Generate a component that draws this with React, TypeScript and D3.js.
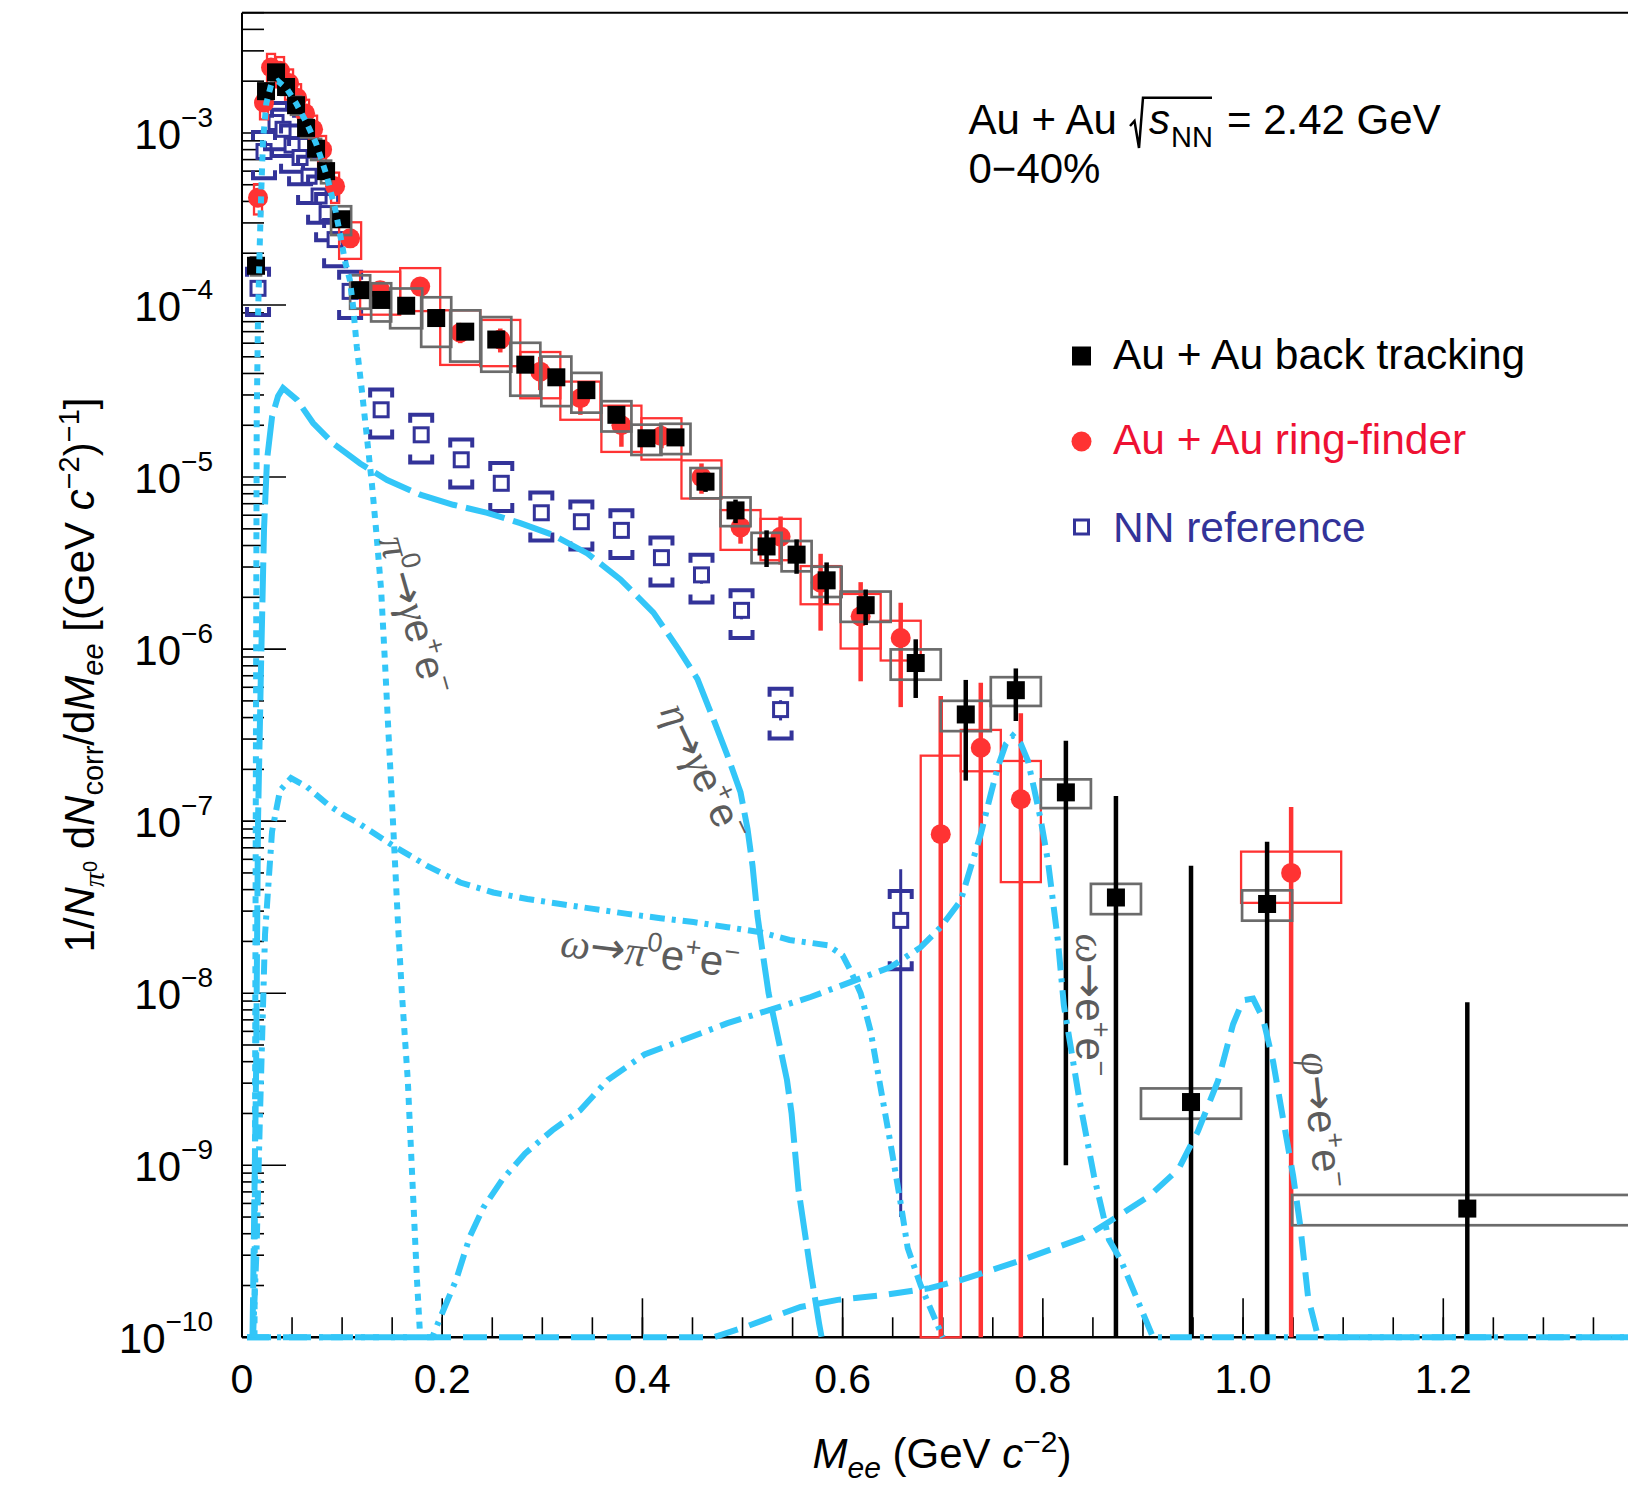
import React from 'react';
import * as d3 from 'd3';

// ---------------- values ----------------
// Au + Au back tracking (black squares)
const btMass = [0.014, 0.024, 0.034, 0.044, 0.054, 0.064, 0.074, 0.084, 0.099, 0.118, 0.139, 0.164, 0.194, 0.223, 0.254, 0.283, 0.314, 0.344, 0.374, 0.404, 0.433, 0.463, 0.493, 0.524, 0.554, 0.584, 0.623, 0.673, 0.723, 0.773, 0.823, 0.873, 0.948, 1.024, 1.224];
const btYield = [1.69e-4, 1.75e-3, 2.25e-3, 1.85e-3, 1.45e-3, 1.07e-3, 8.1e-4, 6.0e-4, 3.15e-4, 1.22e-4, 1.07e-4, 9.9e-5, 8.4e-5, 7.0e-5, 6.3e-5, 4.5e-5, 3.8e-5, 3.2e-5, 2.3e-5, 1.68e-5, 1.7e-5, 9.4e-6, 6.4e-6, 3.95e-6, 3.54e-6, 2.51e-6, 1.8e-6, 8.3e-7, 4.17e-7, 5.77e-7, 1.47e-7, 3.6e-8, 2.33e-9, 3.3e-8, 5.6e-10];
const btStat = [1.0e-5, 5e-5, 6e-5, 5e-5, 4e-5, 3e-5, 2.5e-5, 2e-5, 1.2e-5, 6e-6, 6e-6, 6e-6, 5e-6, 4.5e-6, 4e-6, 3e-6, 2.6e-6, 2.4e-6, 1.8e-6, 1.5e-6, 1.5e-6, 1.2e-6, 1.0e-6, 0.95e-6, 0.8e-6, 0.68e-6, 0.42e-6, 3.1e-7, 2.45e-7, 1.95e-7, 1.46e-7, 1.04e-7, 5.27e-8, 4.3e-8, 8.3e-9];
const btSys = [0.12, 0.1, 0.1, 0.1, 0.12, 0.12, 0.14, 0.15, 0.19, 0.22, 0.25, 0.26, 0.32, 0.33, 0.35, 0.34, 0.32, 0.26, 0.2, 0.2, 0.2, 0.2, 0.19, 0.2, 0.2, 0.2, 0.2, 0.2, 0.2, 0.19, 0.19, 0.2, 0.2, 0.2, 0.2];
const btHalfBin = [0.005, 0.005, 0.005, 0.005, 0.005, 0.005, 0.005, 0.005, 0.01, 0.01, 0.01, 0.016, 0.015, 0.015, 0.015, 0.015, 0.015, 0.015, 0.015, 0.015, 0.015, 0.015, 0.015, 0.015, 0.015, 0.015, 0.025, 0.025, 0.025, 0.025, 0.025, 0.025, 0.05, 0.025, 0.175];

// Au + Au ring-finder (red circles)
const rfMass = [0.016, 0.022, 0.029, 0.038, 0.047, 0.055, 0.063, 0.071, 0.08, 0.093, 0.108, 0.138, 0.178, 0.218, 0.258, 0.298, 0.338, 0.379, 0.419, 0.459, 0.498, 0.538, 0.578, 0.618, 0.658, 0.698, 0.738, 0.778, 1.048];
const rfYield = [4.2e-4, 1.5e-3, 2.4e-3, 2.3e-3, 1.95e-3, 1.6e-3, 1.3e-3, 1.05e-3, 8.0e-4, 4.9e-4, 2.44e-4, 1.22e-4, 1.28e-4, 6.9e-5, 6.3e-5, 4.1e-5, 2.87e-5, 2.0e-5, 1.73e-5, 1.0e-5, 5.1e-6, 4.5e-6, 2.43e-6, 1.55e-6, 1.16e-6, 8.4e-8, 2.67e-7, 1.34e-7, 5.0e-8];
const rfStat = [2.5e-5, 6e-5, 8e-5, 7e-5, 6e-5, 5e-5, 4e-5, 3.5e-5, 3e-5, 2e-5, 1.2e-5, 8e-6, 8e-6, 9e-6, 1e-5, 9e-6, 5.7e-6, 5e-6, 2.6e-6, 2e-6, 1.0e-6, 1.4e-6, 1.15e-6, 0.9e-6, 0.7e-6, 4.5e-7, 3.7e-7, 2.9e-7, 7.1e-8];
const rfSys = [0.2, 0.2, 0.2, 0.2, 0.2, 0.2, 0.2, 0.2, 0.2, 0.2, 0.24, 0.28, 0.28, 0.35, 0.3, 0.3, 0.25, 0.3, 0.27, 0.25, 0.26, 0.27, 0.25, 0.35, 0.26, 1.86, 0.27, 0.67, 0.33];
const rfHalfBin = [0.004, 0.004, 0.004, 0.004, 0.004, 0.004, 0.004, 0.004, 0.004, 0.004, 0.011, 0.02, 0.02, 0.02, 0.02, 0.02, 0.02, 0.02, 0.02, 0.02, 0.02, 0.02, 0.02, 0.02, 0.02, 0.02, 0.02, 0.02, 0.05];

// NN reference (open blue squares)
const nnMass = [0.016, 0.022, 0.034, 0.041, 0.05, 0.058, 0.067, 0.077, 0.085, 0.093, 0.108, 0.139, 0.179, 0.219, 0.259, 0.299, 0.339, 0.379, 0.419, 0.459, 0.499, 0.538, 0.658];
const nnYield = [1.25e-4, 7.8e-4, 1.15e-3, 1.05e-3, 8.5e-4, 7.2e-4, 5.6e-4, 4.3e-4, 3.4e-4, 2.4e-4, 1.2e-4, 2.46e-5, 1.76e-5, 1.26e-5, 9.2e-6, 6.2e-6, 5.5e-6, 4.9e-6, 3.4e-6, 2.7e-6, 1.68e-6, 4.45e-7, 2.65e-8];
const nnStat = [6e-6, 3e-5, 4e-5, 4e-5, 3e-5, 3e-5, 2.5e-5, 2e-5, 1.5e-5, 1.2e-5, 6e-6, 1.8e-6, 1.4e-6, 1.1e-6, 8e-7, 6e-7, 5.5e-7, 5e-7, 3.6e-7, 3e-7, 1.9e-7, 6e-8, 2.6e-8];
const nnSys = [0.3, 0.3, 0.3, 0.3, 0.3, 0.3, 0.3, 0.3, 0.3, 0.3, 0.3, 0.31, 0.31, 0.31, 0.31, 0.31, 0.31, 0.31, 0.31, 0.31, 0.31, 0.32, 0.48];

// cocktail curves [mass, yield]; 0 = below the axis
const pi0Dalitz: [number, number][] = [[0.0125, 0], [0.0147, 2.2e-5], [0.016, 8.5e-5], [0.0177, 2.2e-4], [0.0193, 4.7e-4], [0.021, 9.1e-4], [0.0243, 1.49e-3], [0.029, 1.9e-3], [0.036, 2.0e-3], [0.045, 1.8e-3], [0.054, 1.49e-3], [0.064, 1.16e-3], [0.074, 8.7e-4], [0.084, 5.8e-4], [0.0927, 3.7e-4], [0.099, 2.4e-4], [0.1027, 1.82e-4], [0.1077, 1.4e-4], [0.111, 9.8e-5], [0.1147, 5.7e-5], [0.1197, 3.2e-5], [0.1247, 1.72e-5], [0.1297, 9.2e-6], [0.134, 4.9e-6], [0.139, 2.2e-6], [0.143, 8.0e-7], [0.1463, 3.27e-7], [0.1497, 1.34e-7], [0.153, 5.5e-8], [0.1563, 2.25e-8], [0.1597, 1.0e-8], [0.1656, 3.13e-9], [0.1702, 8.2e-10], [0.1748, 2.15e-10], [0.178, 0]];
const etaDalitz: [number, number][] = [[0.0105, 0], [0.014, 3.2e-9], [0.016, 1.0e-7], [0.019, 7.9e-7], [0.022, 5.0e-6], [0.025, 1.26e-5], [0.03, 2.24e-5], [0.036, 2.95e-5], [0.041, 3.29e-5], [0.055, 2.81e-5], [0.071, 2.06e-5], [0.091, 1.57e-5], [0.118, 1.2e-5], [0.145, 9.6e-6], [0.178, 7.9e-6], [0.211, 6.9e-6], [0.245, 6.2e-6], [0.278, 5.4e-6], [0.311, 4.6e-6], [0.345, 3.6e-6], [0.378, 2.54e-6], [0.411, 1.63e-6], [0.436, 1.0e-6], [0.455, 6.7e-7], [0.471, 3.9e-7], [0.485, 2.4e-7], [0.498, 1.47e-7], [0.505, 9.0e-8], [0.51, 5.5e-8], [0.515, 2.8e-8], [0.521, 1.58e-8], [0.526, 1.0e-8], [0.5444, 3.13e-9], [0.549, 2.0e-9], [0.5559, 7.2e-10], [0.5673, 2.57e-10], [0.5765, 1.2e-10], [0.579, 0]];
const omegaDalitz: [number, number][] = [[0.011, 0], [0.0145, 3.2e-10], [0.018, 2.0e-9], [0.023, 2.2e-8], [0.03, 8.7e-8], [0.038, 1.51e-7], [0.049, 1.78e-7], [0.065, 1.58e-7], [0.085, 1.26e-7], [0.1, 1.1e-7], [0.118, 9.6e-8], [0.151, 7.2e-8], [0.185, 5.5e-8], [0.218, 4.4e-8], [0.251, 3.85e-8], [0.285, 3.53e-8], [0.318, 3.3e-8], [0.351, 3.09e-8], [0.385, 2.89e-8], [0.418, 2.73e-8], [0.451, 2.59e-8], [0.485, 2.42e-8], [0.518, 2.26e-8], [0.547, 2.04e-8], [0.585, 1.9e-8], [0.6, 1.66e-8], [0.608, 1.35e-8], [0.618, 1.0e-8], [0.628, 6.0e-9], [0.638, 2.8e-9], [0.648, 1.32e-9], [0.658, 6.0e-10], [0.665, 3.3e-10], [0.678, 2.0e-10], [0.7, 0]];
const omegaDirect: [number, number][] = [[0.005, 0], [0.19, 0], [0.1999, 1.38e-10], [0.2138, 2.15e-10], [0.2276, 3.85e-10], [0.2413, 5.7e-10], [0.2597, 8.2e-10], [0.2827, 1.17e-9], [0.3102, 1.6e-9], [0.3378, 2.09e-9], [0.3653, 3.13e-9], [0.402, 4.4e-9], [0.485, 6.7e-9], [0.568, 9.5e-9], [0.648, 1.42e-8], [0.678, 1.85e-8], [0.698, 2.42e-8], [0.718, 3.46e-8], [0.728, 5.4e-8], [0.738, 8.4e-8], [0.748, 1.44e-7], [0.755, 2.06e-7], [0.763, 2.81e-7], [0.77, 3.14e-7], [0.778, 2.81e-7], [0.785, 2.25e-7], [0.791, 1.57e-7], [0.798, 1.01e-7], [0.805, 5.9e-8], [0.81, 3.46e-8], [0.815, 2.03e-8], [0.821, 8.5e-9], [0.8364, 2.42e-9], [0.851, 8.7e-10], [0.866, 3.7e-10], [0.878, 2.8e-10], [0.91, 0], [1.4, 0]];
const phiDirect: [number, number][] = [[0.005, 0], [0.471, 0], [0.503, 1.15e-10], [0.526, 1.29e-10], [0.558, 1.5e-10], [0.595, 1.65e-10], [0.641, 1.76e-10], [0.687, 1.93e-10], [0.718, 2.15e-10], [0.778, 2.8e-10], [0.841, 3.8e-10], [0.876, 5.1e-10], [0.906, 6.6e-10], [0.9355, 9.5e-10], [0.955, 1.58e-9], [0.975, 3.1e-9], [0.99, 6.6e-9], [1.0, 9.1e-9], [1.01, 9.3e-9], [1.02, 7.1e-9], [1.03, 4.0e-9], [1.04, 1.86e-9], [1.05, 8.7e-10], [1.057, 4.5e-10], [1.065, 1.7e-10], [1.075, 0], [1.4, 0]];

// axis ticks
const xTickValues = [0, 0.2, 0.4, 0.6, 0.8, 1.0, 1.2, 1.4];
const xTickLabels = ['0', '0.2', '0.4', '0.6', '0.8', '1.0', '1.2', ''];
const yDecades = [-10, -9, -8, -7, -6, -5, -4, -3];

// legend
const legendLabels = ['Au + Au back tracking', 'Au + Au ring-finder', 'NN reference'];

// ---------------- drawing ----------------
const FONT = "'Liberation Sans', Arial, Helvetica, sans-serif";
const SERIF = "'Liberation Serif', 'Times New Roman', serif";
const ARROW = "'DejaVu Sans', sans-serif";
const RED = '#ff3333';
const BLUE = '#333399';
const GRAY = '#6b6b6b';
const CYAN = '#33c6f8';
const LABEL = '#5c5c5c';

type Seg = { t: string; size?: number; shift?: number; it?: boolean; serif?: boolean; family?: string };

function Rich({ segs, base, ...rest }: { segs: Seg[]; base: number } & React.SVGProps<SVGTextElement>) {
  let prev = 0;
  return (
    <text fontFamily={FONT} fontSize={base} style={{ whiteSpace: 'pre' }} {...rest}>
      {segs.map((s, i) => {
        const sh = s.shift ?? 0;
        const dy = prev - sh;
        prev = sh;
        return (
          <tspan key={i} dy={dy !== 0 ? dy : undefined} fontSize={s.size ?? base}
            fontStyle={s.it ? 'italic' : undefined} fontFamily={s.family ?? (s.serif ? SERIF : undefined)}>
            {s.t}
          </tspan>
        );
      })}
    </text>
  );
}

export default function App() {
  const W = 1628, H = 1487;
  const left = 242, right = 1643.5, top = 12.7, bottom = 1337.3;

  const x = d3.scaleLinear().domain([0, 1.4]).range([left, right]);
  const y = d3.scaleLog().domain([1e-10, 5e-3]).range([bottom, top]).clamp(true);
  const Y = (v: number) => y(v > 0 ? v : 1e-12);

  const line = d3.line<[number, number]>().x(d => x(d[0])).y(d => Y(d[1]));

  const xMinor = d3.range(0, 1.4001, 0.05);
  const yMinor = y.ticks().filter(t => Math.abs(Math.log10(t) - Math.round(Math.log10(t))) > 1e-6);

  const curves: { data: [number, number][]; dash: string }[] = [
    { data: phiDirect, dash: '24 12' },
    { data: omegaDirect, dash: '22 8 4 8' },
    { data: omegaDalitz, dash: '15 7 4 7' },
    { data: etaDalitz, dash: '40 9' },
    { data: pi0Dalitz, dash: '7 7' },
  ];

  const sup = (t: string): Seg => ({ t, size: 27, shift: 16 });
  const arrow: Seg = { t: '\u2192', family: ARROW };

  return (
    <svg width={W} height={H} style={{ position: 'absolute', left: 0, top: 0, background: '#fff' }}>
      <defs>
        <clipPath id="dataClip"><rect x={left} y={top} width={right - left} height={bottom - top + 3} /></clipPath>
        <clipPath id="curveClip"><rect x={left} y={top} width={right - left} height={bottom - top + 5} /></clipPath>
      </defs>

      {/* frame and axes */}
      <line x1={left} x2={W} y1={top} y2={top} stroke="#000" strokeWidth={2} />
      <line x1={left} x2={left} y1={top} y2={bottom} stroke="#000" strokeWidth={2} />
      <line x1={left} x2={W} y1={bottom} y2={bottom} stroke="#000" strokeWidth={2.5} />
      {xMinor.map((t, i) => (
        <line key={'xm' + i} x1={x(t)} x2={x(t)} y1={bottom} y2={bottom - 20} stroke="#000" strokeWidth={1.6} />
      ))}
      {xTickValues.map((t, i) => (
        <g key={'xt' + i}>
          <line x1={x(t)} x2={x(t)} y1={bottom} y2={bottom - 39} stroke="#000" strokeWidth={1.6} />
          <text x={x(t)} y={1393} textAnchor="middle" fontFamily={FONT} fontSize={41}>{xTickLabels[i]}</text>
        </g>
      ))}
      {yMinor.map((t, i) => (
        <line key={'ym' + i} x1={left} x2={left + 22} y1={y(t)} y2={y(t)} stroke="#000" strokeWidth={1.6} />
      ))}
      {yDecades.map(d => {
        const yy = y(Math.pow(10, d));
        return (
          <g key={'yt' + d}>
            <line x1={left} x2={left + 44} y1={yy} y2={yy} stroke="#000" strokeWidth={1.6} />
            <Rich base={42} x={213} y={yy + 16} textAnchor="end"
              segs={[{ t: '10' }, { t: '\u2212' + Math.abs(d), size: 28, shift: 22 }]} />
          </g>
        );
      })}

      {/* NN reference */}
      <g clipPath="url(#dataClip)">
        {nnMass.map((m, i) => {
          const v = nnYield[i], cx = x(m);
          const yt = Y(v * (1 + nnSys[i])), yb = Y(v * (1 - nnSys[i]));
          return (
            <g key={'nn' + i}>
              <line x1={cx} x2={cx} y1={Y(v + nnStat[i])} y2={Y(v - nnStat[i])} stroke={BLUE} strokeWidth={3} />
              <path d={`M${cx - 11},${yt + 8}V${yt}H${cx + 11}V${yt + 8}`} fill="none" stroke={BLUE} strokeWidth={4} />
              <path d={`M${cx - 11},${yb - 8}V${yb}H${cx + 11}V${yb - 8}`} fill="none" stroke={BLUE} strokeWidth={4} />
              <rect x={cx - 7} y={Y(v) - 7} width={14} height={14} fill="#fff" stroke={BLUE} strokeWidth={3} />
            </g>
          );
        })}
      </g>

      {/* ring-finder */}
      <g clipPath="url(#dataClip)">
        {rfMass.map((m, i) => {
          const v = rfYield[i];
          return (
            <rect key={'rfs' + i} x={x(m - rfHalfBin[i])} width={x(m + rfHalfBin[i]) - x(m - rfHalfBin[i])}
              y={Y(v * (1 + rfSys[i]))} height={Y(v * (1 - rfSys[i])) - Y(v * (1 + rfSys[i]))}
              fill="none" stroke={RED} strokeWidth={2.3} />
          );
        })}
        {rfMass.map((m, i) => {
          const v = rfYield[i], cx = x(m);
          return (
            <g key={'rf' + i}>
              <line x1={cx} x2={cx} y1={Y(v + rfStat[i])} y2={Y(v - rfStat[i])} stroke={RED} strokeWidth={4.5} />
              <circle cx={cx} cy={Y(v)} r={10} fill={RED} />
            </g>
          );
        })}
      </g>

      {/* back tracking */}
      <g clipPath="url(#dataClip)">
        {btMass.map((m, i) => {
          const v = btYield[i];
          return (
            <rect key={'bts' + i} x={x(m - btHalfBin[i])} width={x(m + btHalfBin[i]) - x(m - btHalfBin[i])}
              y={Y(v * (1 + btSys[i]))} height={Y(v * (1 - btSys[i])) - Y(v * (1 + btSys[i]))}
              fill="none" stroke={GRAY} strokeWidth={2.7} />
          );
        })}
        {btMass.map((m, i) => {
          const v = btYield[i], cx = x(m);
          return (
            <g key={'bt' + i}>
              <line x1={cx} x2={cx} y1={Y(v + btStat[i])} y2={Y(v - btStat[i])} stroke="#000" strokeWidth={4.5} />
              <rect x={cx - 9} y={Y(v) - 9} width={18} height={18} fill="#000" />
            </g>
          );
        })}
      </g>

      {/* cocktail */}
      <g clipPath="url(#curveClip)" fill="none" stroke={CYAN} strokeWidth={6}>
        {curves.map((c, i) => (
          <path key={'c' + i} d={line(c.data) ?? ''} strokeDasharray={c.dash} />
        ))}
      </g>

      {/* curve labels */}
      <g fill={LABEL}>
        <Rich base={41} textAnchor="middle" transform="translate(415,615) rotate(74)" dy={14}
          segs={[{ t: 'π', serif: true, it: true }, { t: '0', size: 27, shift: 16 }, arrow, { t: 'γ', serif: true, it: true }, { t: 'e' }, sup('+'), { t: 'e' }, sup('−')]} />
        <Rich base={41} textAnchor="middle" transform="translate(704,772) rotate(64.5)" dy={14}
          segs={[{ t: 'η', serif: true, it: true }, arrow, { t: 'γ', serif: true, it: true }, { t: 'e' }, sup('+'), { t: 'e' }, sup('−')]} />
        <Rich base={42} textAnchor="middle" transform="translate(650,953) rotate(7)" dy={14}
          segs={[{ t: 'ω', serif: true, it: true }, arrow, { t: 'π', serif: true, it: true }, { t: '0', size: 27, shift: 16 }, { t: 'e' }, sup('+'), { t: 'e' }, sup('−')]} />
        <Rich base={42} textAnchor="middle" transform="translate(1090,1005) rotate(90)" dy={14}
          segs={[{ t: 'ω', serif: true, it: true }, arrow, { t: 'e' }, sup('+'), { t: 'e' }, sup('−')]} />
        <Rich base={42} textAnchor="middle" transform="translate(1322,1120) rotate(84)" dy={14}
          segs={[{ t: 'φ', serif: true, it: true }, arrow, { t: 'e' }, sup('+'), { t: 'e' }, sup('−')]} />
      </g>

      {/* system label */}
      <text x={968.5} y={134} fontFamily={FONT} fontSize={42}>Au + Au</text>
      <path d="M1130,126 L1134.5,121 L1139,148 L1143,97.7 L1212,97.7" fill="none" stroke="#000" strokeWidth={2.5} />
      <text x={1149} y={134} fontFamily={FONT} fontSize={42} fontStyle="italic">s</text>
      <text x={1171} y={147} fontFamily={FONT} fontSize={29}>NN</text>
      <text x={1227} y={134} fontFamily={FONT} fontSize={42}>= 2.42 GeV</text>
      <text x={968.5} y={183} fontFamily={FONT} fontSize={42}>0−40%</text>

      {/* legend */}
      <rect x={1072} y={346.5} width={19} height={19} fill="#000" />
      <text x={1113} y={369} fontFamily={FONT} fontSize={42.5} fill="#000">{legendLabels[0]}</text>
      <circle cx={1081.5} cy={441.5} r={10} fill={RED} />
      <text x={1113} y={454} fontFamily={FONT} fontSize={42.5} fill="#ee1133">{legendLabels[1]}</text>
      <rect x={1074.5} y={520} width={14} height={14} fill="#fff" stroke={BLUE} strokeWidth={3} />
      <text x={1113} y={542} fontFamily={FONT} fontSize={42.5} fill={BLUE}>{legendLabels[2]}</text>

      {/* axis titles */}
      <Rich base={42} x={942} y={1468} textAnchor="middle"
        segs={[{ t: 'M', it: true }, { t: 'ee', it: true, size: 30, shift: -10 }, { t: ' (GeV ' }, { t: 'c', it: true }, { t: '−2', size: 30, shift: 16 }, { t: ')' }]} />
      <Rich base={42} textAnchor="middle" transform="translate(94,675) rotate(-90)"
        segs={[
          { t: '1/' }, { t: 'N', it: true },
          { t: 'π', size: 30, shift: -10, serif: true, it: true }, { t: '0', size: 20, shift: -3 },
          { t: ' d' }, { t: 'N', it: true }, { t: 'corr', size: 29, shift: -9 },
          { t: '/d' }, { t: 'M', it: true }, { t: 'ee', size: 29, shift: -9, it: true },
          { t: ' [(GeV ' }, { t: 'c', it: true }, { t: '−2', size: 29, shift: 15 },
          { t: ')' }, { t: '−1', size: 29, shift: 15 }, { t: ']' },
        ]} />
    </svg>
  );
}
